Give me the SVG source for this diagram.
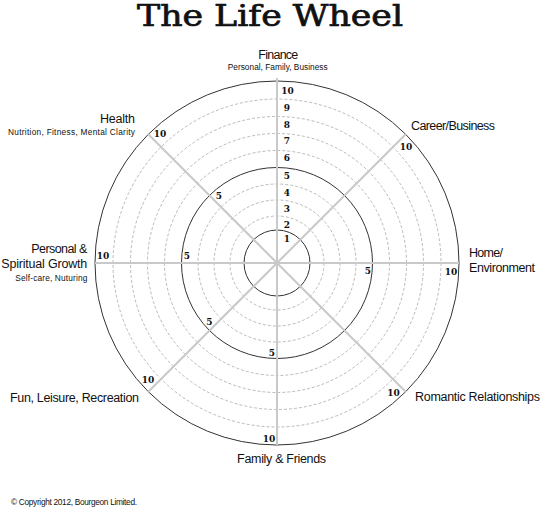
<svg xmlns="http://www.w3.org/2000/svg" width="541" height="509" viewBox="0 0 541 509">
<style>
.bg{fill:#fff}
.solid{fill:none;stroke:#333;stroke-width:1}
.dash{fill:none;stroke:#a8a8a8;stroke-width:0.8;stroke-dasharray:3 2}
.axis{stroke:#c9c9c9;stroke-width:2;fill:none}
.num{font-family:"DejaVu Serif","Liberation Serif",serif;font-size:9px;font-weight:bold;fill:#111;text-anchor:middle}
.lab{font-family:"Liberation Sans","DejaVu Sans",sans-serif;font-size:12.5px;fill:#111}
.sub{font-family:"Liberation Sans","DejaVu Sans",sans-serif;font-size:8.3px;fill:#111}
.title{font-family:"DejaVu Serif","Liberation Serif",serif;font-size:29px;font-weight:normal;fill:#111;stroke:#111;stroke-width:0.7;text-anchor:middle}
.end{text-anchor:end}
.mid{text-anchor:middle}
</style>
<rect class="bg" x="0" y="0" width="541" height="509"/>
<text class="title" x="270" y="26" textLength="266" lengthAdjust="spacingAndGlyphs">The Life Wheel</text>

<g id="rings">
<circle class="dash" cx="277" cy="263" r="47"/>
<circle class="dash" cx="277" cy="263" r="63"/>
<circle class="dash" cx="277" cy="263" r="79"/>
<circle class="dash" cx="277" cy="263" r="112.5"/>
<circle class="dash" cx="277" cy="263" r="129.5"/>
<circle class="dash" cx="277" cy="263" r="146.5"/>
<circle class="dash" cx="277" cy="263" r="164"/>
<circle class="solid" cx="277" cy="263" r="33"/>
<circle class="solid" cx="277" cy="263" r="95.5"/>
<circle class="solid" cx="277" cy="263" r="182"/>
</g>

<g id="connectors">
<line class="axis" x1="277" y1="263" x2="277" y2="78"/>
<line class="axis" x1="277" y1="263" x2="277" y2="445"/>
<line class="axis" x1="277" y1="263" x2="95" y2="263"/>
<line class="axis" x1="277" y1="263" x2="459" y2="263"/>
<line class="axis" x1="277" y1="263" x2="405.7" y2="134.3"/>
<line class="axis" x1="277" y1="263" x2="148.3" y2="134.3"/>
<line class="axis" x1="277" y1="263" x2="405.7" y2="391.7"/>
<line class="axis" x1="277" y1="263" x2="148.3" y2="391.7"/>
</g>

<g id="scale">
<text class="num" x="287.5" y="93.5">10</text>
<text class="num" x="287" y="111">9</text>
<text class="num" x="287" y="127.7">8</text>
<text class="num" x="287" y="144.3">7</text>
<text class="num" x="287" y="161">6</text>
<text class="num" x="287" y="179.3">5</text>
<text class="num" x="287" y="196">4</text>
<text class="num" x="287" y="212">3</text>
<text class="num" x="287" y="227.7">2</text>
<text class="num" x="287" y="242">1</text>
<text class="num" x="160" y="137">10</text>
<text class="num" x="219" y="199">5</text>
<text class="num" x="103" y="259">10</text>
<text class="num" x="187" y="259">5</text>
<text class="num" x="368" y="274">5</text>
<text class="num" x="451" y="275">10</text>
<text class="num" x="406" y="150">10</text>
<text class="num" x="209.5" y="325">5</text>
<text class="num" x="148" y="383">10</text>
<text class="num" x="272" y="356">5</text>
<text class="num" x="269" y="442">10</text>
<text class="num" x="393.5" y="396">10</text>
</g>

<g id="finance">
<text class="lab mid" x="278.3" y="59" textLength="40">Finance</text>
<text class="sub mid" x="277.7" y="70" textLength="100">Personal, Family, Business</text>
</g>
<g id="career">
<text class="lab" x="411" y="130" textLength="84">Career/Business</text>
</g>
<g id="home">
<text class="lab" x="469" y="257.3" textLength="34">Home/</text>
<text class="lab" x="469" y="271.7" textLength="66">Environment</text>
</g>
<g id="romantic">
<text class="lab" x="415" y="401" textLength="125">Romantic Relationships</text>
</g>
<g id="family">
<text class="lab mid" x="281.6" y="463" textLength="89">Family &amp; Friends</text>
</g>
<g id="fun">
<text class="lab" x="10" y="401.5" textLength="129">Fun, Leisure, Recreation</text>
</g>
<g id="personal">
<text class="lab end" x="87.3" y="253.3" textLength="56">Personal &amp;</text>
<text class="lab end" x="87.3" y="268.3" textLength="86">Spiritual Growth</text>
<text class="sub end" x="87.3" y="280.5" textLength="72">Self-care, Nuturing</text>
</g>
<g id="health">
<text class="lab end" x="135" y="123.3" textLength="35">Health</text>
<text class="sub end" x="135" y="135" textLength="127">Nutrition, Fitness, Mental Clarity</text>
</g>
<text class="sub" x="11" y="505" font-size="7.5" textLength="126">© Copyright 2012, Bourgeon Limited.</text>
</svg>
